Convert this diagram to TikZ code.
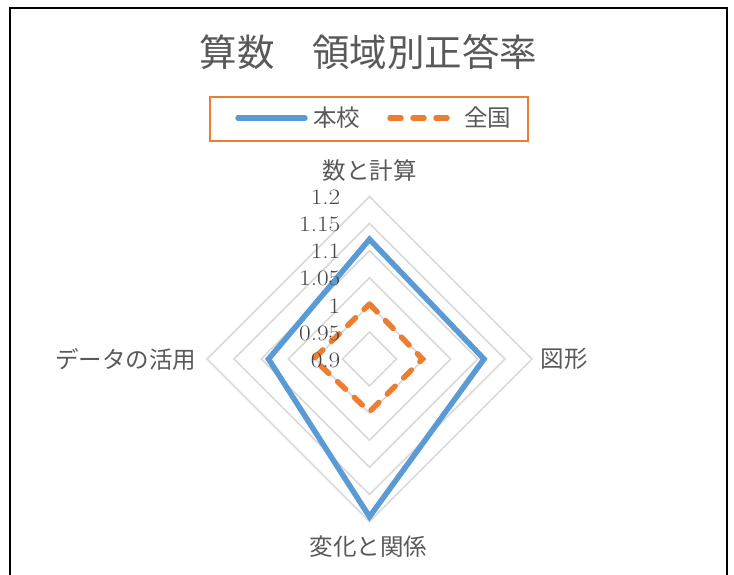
\documentclass[tikz,border=0pt]{standalone}
\usepackage{fontspec}
\usepackage{tikz}
\usepackage{xcolor}
\newfontfamily\jpfont{Noto Sans CJK JP}
\definecolor{gridgray}{HTML}{D9D9D9}
\definecolor{textgray}{HTML}{595959}
\definecolor{tickgray}{HTML}{454545}
\definecolor{schoolblue}{HTML}{5B9BD5}
\definecolor{nationorange}{HTML}{ED7D31}
\newcommand{\tickval}[1]{\scalebox{1.15}[1]{#1}}

\begin{document}
\begin{tikzpicture}[x=1pt,y=-1pt,
  gridline/.style={draw=gridgray,line width=1.6pt},
  schoolline/.style={draw=schoolblue,line width=5.5pt,line join=miter},
  nationline/.style={draw=nationorange,line width=5.5pt,line cap=round,dash pattern=on 11pt off 12pt},
  ticklabel/.style={anchor=east,inner sep=0pt,text=tickgray,font=\fontsize{22}{22}\selectfont},
  catlabel/.style={inner sep=0pt,text=textgray,font=\jpfont\fontsize{23.5}{23.5}\selectfont}]
\useasboundingbox (0,0) rectangle (734,574);
\fill[white] (0,0) rectangle (734,574);
\draw[line width=2pt] (10,7.5) rectangle (726.5,600);

\node[text=textgray,font=\jpfont\fontsize{37.5}{37.5}\selectfont] (title) at (368.5,52) {算数　領域別正答率};

% legend
\draw[draw=nationorange,line width=1.5pt] (210,97) rectangle (528,141);
\coordinate (schoolA) at (238,118);
\coordinate (schoolB) at (305,118);
\coordinate (nationA) at (390,118);
\coordinate (nationB) at (452,118);
\draw[draw=schoolblue,line width=5.5pt,line cap=round] (schoolA) -- (schoolB);
\draw[nationline] (nationA) -- (nationB);
\node[catlabel,anchor=west] (schooltext) at (313,118) {本校};
\node[catlabel,anchor=west] (nationtext) at (464,118) {全国};

\begin{scope}[shift={(369.5,359)}]
% grid
\draw[gridline] (0,-27.1) -- (27.1,0) -- (0,27.1) -- (-27.1,0) -- cycle;
\draw[gridline] (0,-54.2) -- (54.2,0) -- (0,54.2) -- (-54.2,0) -- cycle;
\draw[gridline] (0,-81.3) -- (81.3,0) -- (0,81.3) -- (-81.3,0) -- cycle;
\draw[gridline] (0,-108.3) -- (108.3,0) -- (0,108.3) -- (-108.3,0) -- cycle;
\draw[gridline] (0,-135.4) -- (135.4,0) -- (0,135.4) -- (-135.4,0) -- cycle;
\draw[gridline] (0,-162.5) -- (162.5,0) -- (0,162.5) -- (-162.5,0) -- cycle;

% series
\coordinate (nationN) at (0,-55);
\coordinate (nationE) at (53,0);
\coordinate (nationS) at (0,52.7);
\coordinate (nationW) at (-56,0);
\draw[nationline] (nationN) -- (nationE) -- (nationS) -- (nationW) -- cycle;

\coordinate (schoolN) at (0,-119.7);
\coordinate (schoolE) at (114.5,0);
\coordinate (schoolS) at (0,157.7);
\coordinate (schoolW) at (-101,0);
\draw[schoolline] (schoolN) -- (schoolE) -- (schoolS) -- (schoolW) -- cycle;

% axis values
\node[ticklabel] (t09) at (-29,1) {\tickval{0.9}};
\node[ticklabel] (t095) at (-29,-26.1) {\tickval{0.95}};
\node[ticklabel] (t100) at (-29,-53.2) {\tickval{1}};
\node[ticklabel] (t105) at (-29,-80.3) {\tickval{1.05}};
\node[ticklabel] (t110) at (-29,-107.3) {\tickval{1.1}};
\node[ticklabel] (t115) at (-29,-134.4) {\tickval{1.15}};
\node[ticklabel] (t120) at (-29,-161.5) {\tickval{1.2}};

% categories
\node[catlabel] (calc) at (0,-188) {数と計算};
\node[catlabel,anchor=west] (shape) at (171,0) {図形};
\node[catlabel] (change) at (-1,187.5) {変化と関係};
\node[catlabel,anchor=east] (data) at (-173,0) {データの活用};
\end{scope}
\end{tikzpicture}
\end{document}
